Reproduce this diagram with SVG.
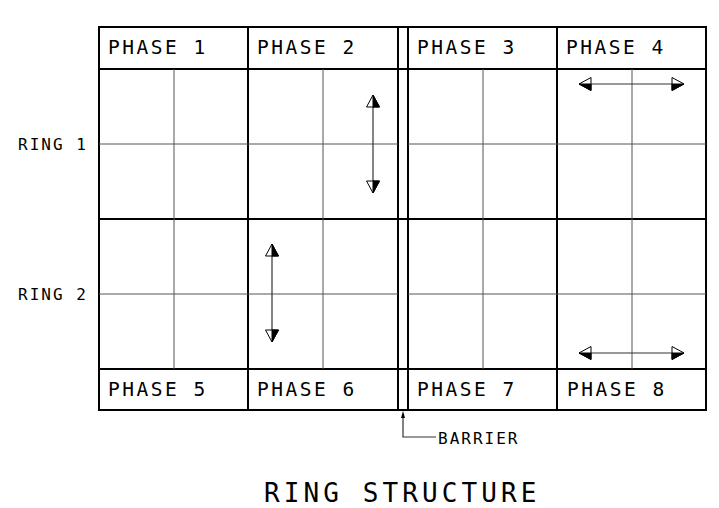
<svg xmlns="http://www.w3.org/2000/svg" width="719" height="508" viewBox="0 0 719 508">
<style>
.thick{stroke:#000;stroke-width:2;fill:none}
.thin{stroke:#555;stroke-width:1;fill:none}
.shaft{stroke:#333;stroke-width:1.2;fill:none}
.hw{fill:#fff;stroke:#000;stroke-width:1}
.hb{fill:#000;stroke:#000;stroke-width:1}
.ph{font-family:"DejaVu Sans Mono","Liberation Mono",monospace;font-size:19.5px;letter-spacing:2.5px;fill:#000}
.rg{font-family:"DejaVu Sans Mono","Liberation Mono",monospace;font-size:16px;letter-spacing:2px;fill:#000}
.title{font-family:"DejaVu Sans Mono","Liberation Mono",monospace;font-size:26px;letter-spacing:4.1px;fill:#000}
</style>
<rect width="719" height="508" fill="#fff"/>
<g id="grid">
<rect class="thick" x="99" y="27" width="607" height="383"/>
<line class="thick" x1="99" y1="69" x2="706" y2="69"/>
<line class="thick" x1="99" y1="219" x2="706" y2="219"/>
<line class="thick" x1="99" y1="369" x2="706" y2="369"/>
<line class="thick" x1="248" y1="27" x2="248" y2="410"/>
<line class="thick" x1="398" y1="27" x2="398" y2="410"/>
<line class="thick" x1="408" y1="27" x2="408" y2="410"/>
<line class="thick" x1="557" y1="27" x2="557" y2="410"/>
<line class="thin" x1="174" y1="69" x2="174" y2="369"/>
<line class="thin" x1="323" y1="69" x2="323" y2="369"/>
<line class="thin" x1="483" y1="69" x2="483" y2="369"/>
<line class="thin" x1="632" y1="69" x2="632" y2="369"/>
<line class="thin" x1="99" y1="144" x2="398" y2="144"/>
<line class="thin" x1="408" y1="144" x2="706" y2="144"/>
<line class="thin" x1="99" y1="294" x2="398" y2="294"/>
<line class="thin" x1="408" y1="294" x2="706" y2="294"/>
</g>
<g id="phase1"><text class="ph" x="108" y="54">PHASE 1</text></g>
<g id="phase2"><text class="ph" x="257" y="54">PHASE 2</text></g>
<g id="phase3"><text class="ph" x="417" y="54">PHASE 3</text></g>
<g id="phase4"><text class="ph" x="566" y="54">PHASE 4</text></g>
<g id="phase5"><text class="ph" x="108" y="396">PHASE 5</text></g>
<g id="phase6"><text class="ph" x="257" y="396">PHASE 6</text></g>
<g id="phase7"><text class="ph" x="417" y="396">PHASE 7</text></g>
<g id="phase8"><text class="ph" x="567" y="396">PHASE 8</text></g>
<g id="ring1"><text class="rg" x="18" y="150">RING 1</text></g>
<g id="ring2"><text class="rg" x="18" y="300">RING 2</text></g>
<g id="connectors">
<line class="shaft" x1="373" y1="100" x2="373" y2="188"/>
<polygon class="hw" points="373,95 366.5,107 379.5,107"/>
<polygon class="hb" points="373,95 379.5,107 373,107"/>
<polygon class="hw" points="373,193 366.5,181 379.5,181"/>
<polygon class="hb" points="373,193 379.5,181 373,181"/>
<line class="shaft" x1="272" y1="249" x2="272" y2="337"/>
<polygon class="hw" points="272,244 265.5,256 278.5,256"/>
<polygon class="hb" points="272,244 278.5,256 272,256"/>
<polygon class="hw" points="272,342 265.5,330 278.5,330"/>
<polygon class="hb" points="272,342 278.5,330 272,330"/>
<line class="shaft" x1="584" y1="84" x2="679" y2="84"/>
<polygon class="hw" points="579,84 591,77.5 591,90.5"/>
<polygon class="hb" points="579,84 591,84 591,90.5"/>
<polygon class="hw" points="684,84 672,77.5 672,90.5"/>
<polygon class="hb" points="684,84 672,84 672,90.5"/>
<line class="shaft" x1="584" y1="353" x2="679" y2="353"/>
<polygon class="hw" points="579,353 591,346.5 591,359.5"/>
<polygon class="hb" points="579,353 591,353 591,359.5"/>
<polygon class="hw" points="684,353 672,346.5 672,359.5"/>
<polygon class="hb" points="684,353 672,353 672,359.5"/>
<polyline class="shaft" points="436,437 403,437 403,416"/>
<polygon points="403,411 401,418 405,418" fill="#000"/>
</g>
<g id="barrier"><text class="rg" x="438" y="444">BARRIER</text></g>
<g id="title"><text class="title" x="264" y="502">RING STRUCTURE</text></g>
</svg>
